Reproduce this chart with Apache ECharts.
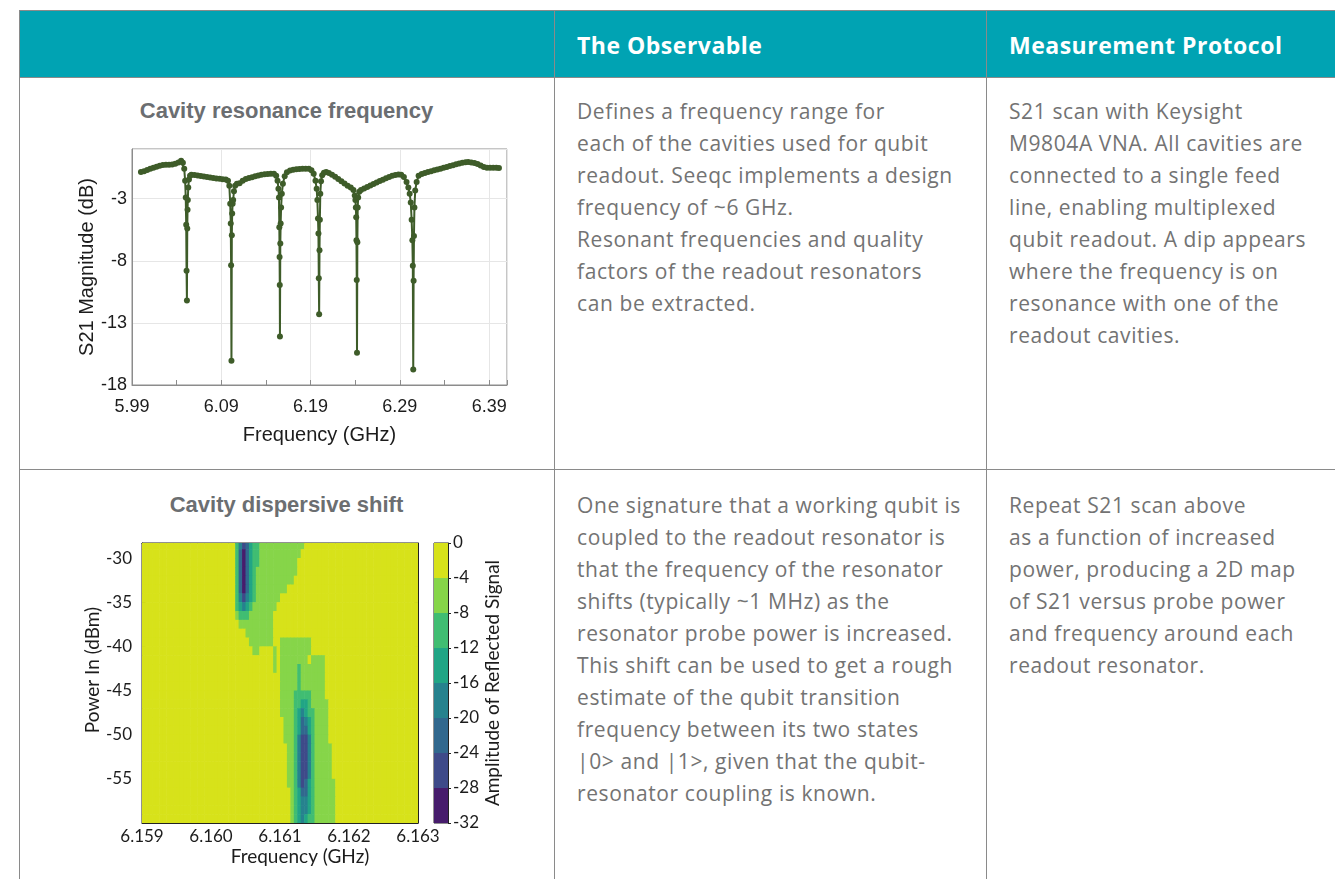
<!DOCTYPE html>
<html>
<head>
<meta charset="utf-8">
<script src="https://cdn.jsdelivr.net/npm/echarts@6/dist/echarts.min.js"></script>
<style>
body { margin:0; background:#fff; width:1335px; height:879px; overflow:hidden; position:relative; font-family:'Open Sans',sans-serif; }
#head { position:absolute; left:19px; top:10px; right:0; height:67px; background:#00a3b3; }
.hl { position:absolute; left:19px; right:0; height:1px; background:#8a8a8a; }
.vl { position:absolute; top:10px; bottom:0; width:1px; background:#8a8a8a; }
.th { position:absolute; top:12px; height:67px; line-height:67px; color:#fff; font-weight:700; font-size:23px; letter-spacing:0.5px; }
.txt { position:absolute; color:#737373; font-size:21px; line-height:32px; letter-spacing:0.6px; white-space:nowrap; }
.ttl { position:absolute; left:19px; width:535px; text-align:center; line-height:30px; font-family:'Liberation Sans',Arial,sans-serif; font-weight:700; font-size:22px; color:#6b6e71; }
#chart { position:absolute; left:0; top:0; width:1335px; height:879px; }
</style>
</head>
<body>
<div id="head"></div>
<div class="hl" style="top:10px"></div>
<div class="hl" style="top:77px"></div>
<div class="hl" style="top:469px"></div>
<div class="vl" style="left:19px"></div>
<div class="vl" style="left:554px"></div>
<div class="vl" style="left:986px"></div>
<div class="th" style="left:577px">The Observable</div>
<div class="th" style="left:1009px">Measurement Protocol</div>

<div class="ttl" style="top:96px">Cavity resonance frequency</div>
<div class="ttl" style="top:490px">Cavity dispersive shift</div>

<div class="txt" style="left:577px; top:95px">Defines a frequency range for<br>each of the cavities used for qubit<br>readout. Seeqc implements a design<br>frequency of ~6 GHz.<br>Resonant frequencies and quality<br>factors of the readout resonators<br>can be extracted.</div>
<div class="txt" style="left:1009px; top:95px">S21 scan with Keysight<br>M9804A VNA. All cavities are<br>connected to a single feed<br>line, enabling multiplexed<br>qubit readout. A dip appears<br>where the frequency is on<br>resonance with one of the<br>readout cavities.</div>
<div class="txt" style="left:577px; top:489px">One signature that a working qubit is<br>coupled to the readout resonator is<br>that the frequency of the resonator<br>shifts (typically ~1 MHz) as the<br>resonator probe power is increased.<br>This shift can be used to get a rough<br>estimate of the qubit transition<br>frequency between its two states<br>|0&gt; and |1&gt;, given that the qubit-<br>resonator coupling is known.</div>
<div class="txt" style="left:1009px; top:489px">Repeat S21 scan above<br>as a function of increased<br>power, producing a 2D map<br>of S21 versus probe power<br>and frequency around each<br>readout resonator.</div>

<div id="chart"></div>
<script>
// S21 scan (GHz, dB)
const s21Freq = [
  6.0000, 6.0035, 6.0070, 6.0105, 6.0140, 6.0175, 6.0210, 6.0245, 6.0280, 6.0315, 6.0350, 6.0385, 6.0420, 6.0450, 6.0470, 6.0485,
  6.0495, 6.0502, 6.0507, 6.0511, 6.0515, 6.0519, 6.0522, 6.0525, 6.0530, 6.0538, 6.0550, 6.0565,
  6.0600, 6.0635, 6.0670, 6.0705, 6.0740, 6.0775, 6.0810, 6.0845, 6.0880, 6.0915, 6.0950, 6.0975,
  6.0990, 6.1000, 6.1006, 6.1010, 6.1014, 6.1018, 6.1022, 6.1027, 6.1033, 6.1042, 6.1055, 6.1075,
  6.1105, 6.1140, 6.1175, 6.1210, 6.1245, 6.1280, 6.1315, 6.1350, 6.1385, 6.1420, 6.1455, 6.1490, 6.1515, 6.1530,
  6.1540, 6.1546, 6.1550, 6.1553, 6.1555, 6.1557, 6.1561, 6.1565, 6.1570, 6.1578, 6.1590, 6.1610, 6.1635,
  6.1670, 6.1705, 6.1740, 6.1775, 6.1810, 6.1845, 6.1880, 6.1910, 6.1935, 6.1955,
  6.1968, 6.1976, 6.1983, 6.1988, 6.1992, 6.1996, 6.2000, 6.2004, 6.2009, 6.2017, 6.2030, 6.2050, 6.2075,
  6.2105, 6.2140, 6.2175, 6.2210, 6.2245, 6.2280, 6.2315, 6.2350, 6.2380,
  6.2395, 6.2402, 6.2407, 6.2411, 6.2414, 6.2417, 6.2420, 6.2424, 6.2428, 6.2433, 6.2445, 6.2465,
  6.2500, 6.2535, 6.2570, 6.2605, 6.2640, 6.2675, 6.2710, 6.2745, 6.2780, 6.2815, 6.2850, 6.2885, 6.2915, 6.2945, 6.2975, 6.2995,
  6.3010, 6.3022, 6.3032, 6.3040, 6.3045, 6.3050, 6.3054, 6.3058, 6.3063, 6.3072, 6.3088, 6.3110,
  6.3145, 6.3180, 6.3215, 6.3250, 6.3285, 6.3320, 6.3355, 6.3390, 6.3425, 6.3460, 6.3495, 6.3530, 6.3565, 6.3600, 6.3635, 6.3665,
  6.3700, 6.3735, 6.3770, 6.3805, 6.3840, 6.3875, 6.3910, 6.3945, 6.3980, 6.4010
];
const s21Mag = [
  -0.86, -0.80, -0.70, -0.60, -0.50, -0.42, -0.34, -0.28, -0.26, -0.27, -0.25, -0.18, -0.08, 0.05, -0.10, -0.60,
  -1.55, -2.90, -5.10, -8.80, -11.20, -5.40, -3.90, -3.10, -2.10, -1.45, -1.15, -1.07,
  -1.10, -1.14, -1.18, -1.22, -1.26, -1.30, -1.34, -1.37, -1.40, -1.43, -1.46, -1.55,
  -1.95, -3.40, -5.00, -8.35, -16.05, -5.95, -4.20, -3.40, -3.10, -2.40, -1.95, -1.80,
  -1.75, -1.55, -1.42, -1.34, -1.27, -1.20, -1.13, -1.07, -1.03, -1.01, -0.99, -1.00, -1.15, -1.55,
  -2.20, -2.90, -5.30, -7.70, -9.95, -14.10, -6.60, -5.00, -3.70, -2.60, -1.80, -1.20, -0.88,
  -0.74, -0.67, -0.63, -0.61, -0.60, -0.59, -0.60, -0.72, -1.00, -1.55,
  -2.20, -3.10, -4.60, -5.80, -9.40, -12.30, -7.15, -4.70, -2.60, -1.60, -1.12, -0.92, -0.86,
  -0.93, -1.08, -1.24, -1.42, -1.60, -1.78, -1.95, -2.10, -2.30,
  -2.75, -3.10, -3.70, -4.50, -6.35, -9.55, -15.40, -6.50, -3.70, -2.90, -2.45, -2.30,
  -2.18, -2.05, -1.93, -1.81, -1.69, -1.58, -1.47, -1.36, -1.25, -1.16, -1.10, -1.06, -1.08, -1.25, -1.65, -2.10,
  -2.60, -3.30, -4.70, -6.35, -8.40, -16.75, -9.60, -6.00, -3.70, -2.35, -1.65, -1.15,
  -1.02, -0.93, -0.86, -0.79, -0.72, -0.65, -0.58, -0.51, -0.44, -0.37, -0.30, -0.23, -0.17, -0.11, -0.07, -0.05,
  -0.08, -0.12, -0.20, -0.32, -0.45, -0.51, -0.50, -0.51, -0.51, -0.52
];

// dispersive shift map: one string per 1 dBm row (top row -28..-29 dBm),
// one digit per 0.05 MHz column starting at 6.1602 GHz; digit = level band
const shiftFreqMin = 6.159;
const shiftFreqStep = 0.00005;
const shiftCols = 80;
const shiftColOffset = 24;
const shiftPowerTop = -28.5;
const shiftPowerStep = 1;
const shiftRows = [
  '000246532211111111111110000000000000',
  '000257532211111111111100000000000000',
  '000257532211111111111000000000000000',
  '000257532111111111111000000000000000',
  '000257532111111111110000000000000000',
  '000257532111111111000000000000000000',
  '000246432111111100000000000000000000',
  '000234321111111000000000000000000000',
  '000122211111110000000000000000000000',
  '000011111111110000000000000000000000',
  '000000111111110000000000000000000000',
  '000000011111110011111111100000000000',
  '000000001100001011111111100000000000',
  '000000000000001011111111011110000000',
  '000000000000001011111211111110000000',
  '000000000000000011111211111110000000',
  '000000000000000011111211111110000000',
  '000000000000000011112222211110000000',
  '000000000000000011112233211111000000',
  '000000000000000011112343221111000000',
  '000000000000000001112354321111000000',
  '000000000000000001112355321111000000',
  '000000000000000001112466421111000000',
  '000000000000000000112466421111100000',
  '000000000000000000112466421111100000',
  '000000000000000000112466421111100000',
  '000000000000000000112466421111100000',
  '000000000000000000112465321111110000',
  '000000000000000000012355321111110000',
  '000000000000000000012344321111110000',
  '000000000000000000012344321111110000',
  '000000000000000000012343221111110000'
];
const levelEdges = [0, -4, -8, -12, -16, -20, -24, -28, -32];
const levelColors = ['#d7e21a', '#86d549', '#40bd72', '#21a585', '#26828e', '#31688e', '#3e4a89', '#471c6c'];

function bandMid(b) { return (levelEdges[b] + levelEdges[b + 1]) / 2; }

const shiftCells = [];
shiftRows.forEach(function (row, r) {
  const p = shiftPowerTop - r * shiftPowerStep;
  for (let k = 0; k < shiftCols; k++) {
    const j = k - shiftColOffset;
    const band = (j >= 0 && j < row.length) ? +row[j] : 0;
    shiftCells.push([shiftFreqMin + shiftFreqStep * (k + 0.5), p, bandMid(band)]);
  }
});
const barBands = levelColors.map(function (c, i) { return [levelEdges[i + 1], levelEdges[i], bandMid(i)]; });

const s21Data = s21Freq.map(function (f, i) { return [f, s21Mag[i]]; });

const f1 = 'Liberation Sans';
const f2 = 'Lato';
const ink = '#1c1c1c';

const chart = echarts.init(document.getElementById('chart'));
chart.setOption({
  animation: false,
  grid: [
    { left: 132, top: 149, width: 375, height: 236, show: true, borderColor: '#8c8c8c', borderWidth: 1, outerBoundsMode: 'none' },
    { left: 142, top: 543, width: 276, height: 280, show: true, borderColor: '#222', borderWidth: 1, outerBoundsMode: 'none' },
    { left: 434, top: 543, width: 14, height: 280, show: true, borderColor: '#222', borderWidth: 1, outerBoundsMode: 'none' }
  ],
  xAxis: [
    {
      gridIndex: 0, type: 'value', position: 'bottom', min: 5.99, max: 6.41, interval: 0.1,
      axisLine: { onZero: false, lineStyle: { color: '#8c8c8c' } },
      axisTick: { show: false },
      splitLine: { show: true, lineStyle: { color: '#e6e6e6' } },
      axisLabel: { formatter: function (v) { return v.toFixed(2); }, showMaxLabel: false, fontFamily: f1, fontSize: 18, color: ink, margin: 13 },
      name: 'Frequency (GHz)', nameLocation: 'middle', nameGap: 40,
      nameTextStyle: { fontFamily: f1, fontSize: 20, color: ink }
    },
    {
      gridIndex: 0, type: 'value', position: 'bottom', min: 5.99, max: 6.41, interval: 0.05,
      axisLine: { show: false, onZero: false },
      axisTick: { show: true, inside: true, length: 5, lineStyle: { color: '#8c8c8c' } },
      axisLabel: { show: false }, splitLine: { show: false }
    },
    {
      gridIndex: 1, type: 'value', position: 'bottom', min: 6.159, max: 6.163, interval: 0.001,
      axisLine: { onZero: false, lineStyle: { color: '#222' } },
      axisTick: { inside: true, length: 4, lineStyle: { color: '#222' } },
      splitLine: { show: false },
      axisLabel: { formatter: function (v) { return v.toFixed(3); }, fontFamily: f2, fontSize: 17, color: ink, margin: 5 },
      name: 'Frequency (GHz)', nameLocation: 'middle', nameGap: 24,
      nameTextStyle: { fontFamily: f2, fontSize: 19, color: ink, padding: [0, 0, 0, 40] }
    },
    {
      gridIndex: 1, type: 'value', position: 'top', min: 6.159, max: 6.163, interval: 0.001,
      axisLine: { onZero: false, lineStyle: { color: '#222' } },
      axisTick: { inside: true, length: 4, lineStyle: { color: '#222' } },
      axisLabel: { show: false }, splitLine: { show: false }
    },
    { gridIndex: 2, type: 'value', min: 0, max: 1, show: false }
  ],
  yAxis: [
    {
      gridIndex: 0, type: 'value', min: -18, max: 1, interval: 5,
      axisLine: { show: true, onZero: false, lineStyle: { color: '#8c8c8c' } },
      axisTick: { show: false },
      splitLine: { show: true, lineStyle: { color: '#e6e6e6' } },
      axisLabel: { showMaxLabel: false, fontFamily: f1, fontSize: 18, color: ink, margin: 5 },
      name: 'S21 Magnitude (dB)', nameLocation: 'middle', nameGap: 34,
      nameTextStyle: { fontFamily: f1, fontSize: 20, color: ink }
    },
    {
      gridIndex: 1, type: 'value', position: 'left', min: -60, max: -28.3, interval: 5,
      axisLine: { show: true, onZero: false, lineStyle: { color: '#222' } },
      axisTick: { show: true, inside: true, length: 4, lineStyle: { color: '#222' } },
      splitLine: { show: false },
      axisLabel: { showMinLabel: false, showMaxLabel: false, fontFamily: f2, fontSize: 17, color: ink, margin: 10 },
      name: 'Power In (dBm)', nameLocation: 'middle', nameGap: 33,
      nameTextStyle: { fontFamily: f2, fontSize: 19, color: ink, padding: [0, 0, 0, 26] }
    },
    {
      gridIndex: 1, type: 'value', position: 'right', min: -60, max: -28.3, interval: 5,
      axisLine: { show: true, onZero: false, lineStyle: { color: '#222' } },
      axisTick: { show: true, inside: true, length: 4, lineStyle: { color: '#222' } },
      axisLabel: { show: false }, splitLine: { show: false }
    },
    {
      gridIndex: 2, type: 'value', position: 'right', min: -32, max: 0, interval: 4,
      axisLine: { show: true, onZero: false, lineStyle: { color: '#222' } },
      axisTick: { show: true, inside: false, length: 3, lineStyle: { color: '#222' } },
      splitLine: { show: false },
      axisLabel: { fontFamily: f2, fontSize: 17, color: ink, margin: 5 },
      name: 'Amplitude of Reflected Signal', nameLocation: 'middle', nameGap: 34,
      nameTextStyle: { fontFamily: f2, fontSize: 19, color: ink }
    }
  ],
  visualMap: [{
    type: 'piecewise', show: false, dimension: 2, seriesIndex: [1, 2],
    pieces: levelColors.map(function (c, i) { return { gt: levelEdges[i + 1], lte: levelEdges[i], color: c }; })
  }],
  series: [
    {
      type: 'line', xAxisIndex: 0, yAxisIndex: 0, data: s21Data,
      symbol: 'circle', symbolSize: 6, showAllSymbol: true,
      lineStyle: { color: '#3e5c29', width: 2 },
      itemStyle: { color: '#3e5c29' }
    },
    {
      type: 'custom', xAxisIndex: 2, yAxisIndex: 1, data: shiftCells, clip: true,
      encode: { x: 0, y: 1 },
      renderItem: function (params, api) {
        const c = api.coord([api.value(0), api.value(1)]);
        const s = api.size([shiftFreqStep, shiftPowerStep]);
        return {
          type: 'rect',
          shape: { x: c[0] - s[0] / 2, y: c[1] - s[1] / 2, width: s[0] + 0.6, height: s[1] + 0.6 },
          style: { fill: api.visual('color') }
        };
      }
    },
    {
      type: 'custom', xAxisIndex: 4, yAxisIndex: 3, data: barBands,
      renderItem: function (params, api) {
        const a = api.coord([0, api.value(1)]);
        const b = api.coord([1, api.value(0)]);
        return {
          type: 'rect',
          shape: { x: a[0], y: a[1], width: b[0] - a[0], height: b[1] - a[1] },
          style: { fill: api.visual('color') }
        };
      }
    }
  ]
});
</script>
</body>
</html>
